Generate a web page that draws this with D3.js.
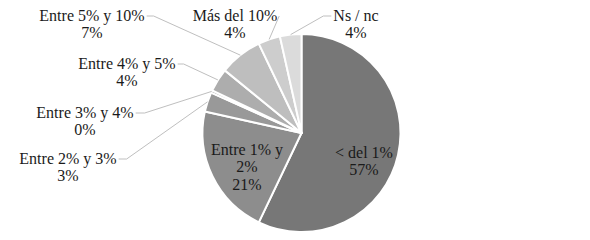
<!DOCTYPE html>
<html>
<head>
<meta charset="utf-8">
<script src="https://cdn.jsdelivr.net/npm/d3@7"></script>
<style>
  body { margin: 0; background: #fff; }
  svg { display: block; }
  svg text { font-family: "Liberation Serif", "Times New Roman", Times, "DejaVu Serif", serif; font-size: 16px; fill: #1a1a1a; }
</style>
</head>
<body>
<svg id="chart" width="590" height="240"></svg>
<script>
// data (percent of answers)
var categories = ["< del 1%", "Entre 1% y 2%", "Entre 2% y 3%", "Entre 3% y 4%",
                  "Entre 4% y 5%", "Entre 5% y 10%", "Más del 10%", "Ns / nc"];
var values = [57.1, 21.4, 3.2, 0.4, 3.8, 7.0, 3.6, 3.5];
var colors = ["#777777", "#8d8d8d", "#999999", "#a1a1a1",
              "#adadad", "#bebebe", "#cdcdcd", "#dbdbdb"];

// label placement (layout only): centre x, first line centre y,
// inside labels have no leader, side says where the leader leaves the text
var labelLayout = [
  {x: 364, y: 152, inside: true},
  {x: 247, y: 149, inside: true, wrap: 80},
  {x: 68,  y: 158, side: "right", hook: 8},
  {x: 85,  y: 112, side: "right", hook: 9},
  {x: 127, y: 63,  side: "right", hook: 6},
  {x: 92,  y: 15,  side: "right", hook: 7},
  {x: 235, y: 15,  side: "right", hook: 0},
  {x: 356, y: 15,  side: "left",  hook: 8}
];

var cx = 301.5, cy = 133, radius = 99, lineGap = 17.5;

var svg = d3.select("#chart");
var g = svg.append("g").attr("transform", "translate(" + cx + "," + cy + ")");

var pie = d3.pie().sort(null).value(function(d) { return d; });
var arcs = pie(values);
var arc = d3.arc().innerRadius(0).outerRadius(radius);
var edge = d3.arc().innerRadius(radius).outerRadius(radius);

g.selectAll("path.slice")
  .data(arcs)
  .enter().append("path")
  .attr("class", "slice")
  .attr("d", arc)
  .attr("fill", function(d, i) { return colors[i]; })
  .attr("stroke", "#fff")
  .attr("stroke-width", 2)
  .attr("stroke-linejoin", "round");

var labels = svg.append("g");

arcs.forEach(function(a, i) {
  var lay = labelLayout[i];
  var lines = [categories[i]];
  if (lay.wrap) {
    // simple word wrap against a max width
    var words = categories[i].split(" "), cur = "", probe = labels.append("text");
    lines = [];
    words.forEach(function(w) {
      var test = cur ? cur + " " + w : w;
      probe.text(test);
      if (probe.node().getComputedTextLength() > lay.wrap && cur) {
        lines.push(cur);
        cur = w;
      } else {
        cur = test;
      }
    });
    lines.push(cur);
    probe.remove();
  }
  lines.push(Math.round(values[i]) + "%");

  var t = labels.append("text")
    .attr("text-anchor", "middle");
  lines.forEach(function(l, k) {
    t.append("tspan")
      .attr("x", lay.x)
      .attr("y", lay.y + k * lineGap)
      .attr("dy", "0.35em")
      .text(l);
  });

  if (!lay.inside) {
    var first = t.select("tspan").node().getComputedTextLength();
    var sx = lay.side === "right" ? lay.x + first / 2 + 2 : lay.x - first / 2 - 2;
    var sy = lay.y + 1;
    var hx = lay.side === "right" ? sx + lay.hook : sx - lay.hook;
    var p = edge.centroid(a);
    labels.append("path")
      .attr("d", d3.line()([[sx, sy], [hx, sy], [cx + p[0], cy + p[1]]]))
      .attr("fill", "none")
      .attr("stroke", "#bfbfbf")
      .attr("stroke-width", 1);
  }
});
</script>
</body>
</html>
